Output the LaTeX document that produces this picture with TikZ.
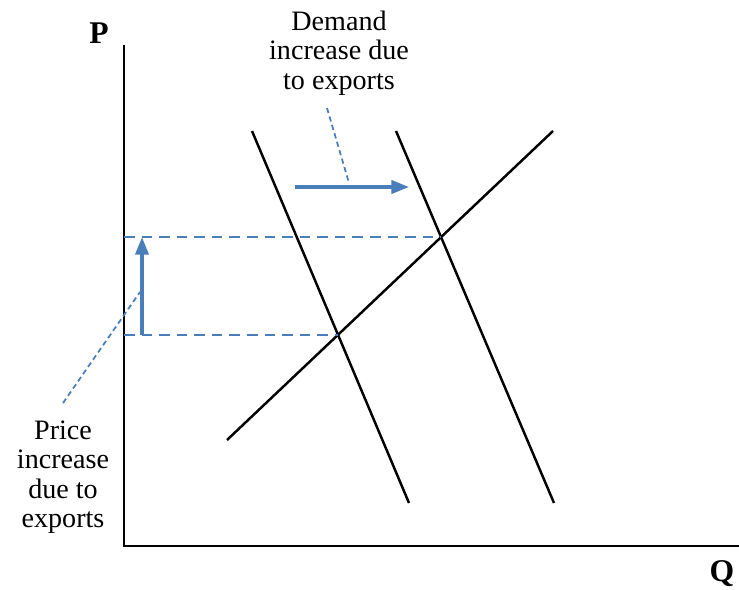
\documentclass[tikz,border=0pt]{standalone}
\usepackage{fontspec}
\setmainfont{Liberation Serif}
\usetikzlibrary{arrows.meta, positioning, calc}
\definecolor{shiftblue}{HTML}{4A7EBB}

\begin{document}
\begin{tikzpicture}[x=0.02cm, y=-0.02cm, thick, >=Stealth,
    curve/.style={line width=1.4pt, black},
    guide/.style={shiftblue, line width=1.2pt, dash pattern=on 6pt off 4pt},
    leader/.style={shiftblue, line width=1pt, dash pattern=on 3pt off 2pt},
    shiftarrow/.style={shiftblue, line width=1.9pt, -{Triangle[length=10pt, width=7.5pt]}},
    notetext/.style={font=\fontsize{16}{16.8}\selectfont, align=center, inner sep=0pt}]
    \useasboundingbox (0,0) rectangle (739,589);

    % Achsen
    \coordinate (O) at (124,546);
    \coordinate (Ptop) at (124,45);
    \coordinate (Qend) at (739,546);
    \draw[curve] (Ptop) -- (O) -- (Qend);
    \node[font=\fontsize{18}{20}\selectfont\bfseries, inner sep=0pt] (P) at (99,33) {P};
    \node[font=\fontsize{18}{20}\selectfont\bfseries, inner sep=0pt] (Q) at (722,574) {Q};

    % Angebot und Nachfrage
    \coordinate (S1) at (227,440);
    \coordinate (S2) at (553,131);
    \coordinate (D1a) at (252,131);
    \coordinate (D1b) at (409,503);
    \coordinate (D2a) at (396,131);
    \coordinate (D2b) at (554,503);
    \draw[curve] (S1) -- (S2);
    \draw[curve] (D1a) -- (D1b);
    \draw[curve] (D2a) -- (D2b);

    % Gleichgewichte
    \coordinate (E1) at (intersection of S1--S2 and D1a--D1b);
    \coordinate (E2) at (intersection of S1--S2 and D2a--D2b);
    \coordinate (P1) at (O |- E1);
    \coordinate (P2) at (O |- E2);
    \draw[guide] (P1) -- (E1);
    \draw[guide] (P2) -- (E2);

    % Verschiebungen
    \coordinate (A1) at ($(P1)+(18,0)$);
    \coordinate (A2) at ($(P2)+(18,0)$);
    \draw[shiftarrow] (A1) -- (A2);
    \coordinate (B1) at (295,187);
    \coordinate (B2) at (409,187);
    \draw[shiftarrow] (B1) -- (B2);

    % Beschriftungen
    \node[notetext] (demand) at (339,53) {Demand\\increase due\\to exports};
    \node[notetext] (price) at (63,477) {Price\\increase\\due to\\exports};
    \coordinate (dlead) at (327,108);
    \coordinate (dtip) at (349,183);
    \draw[leader] (dlead) -- (dtip);
    \coordinate (plead) at (63,403);
    \coordinate (ptip) at (140,292);
    \draw[leader] (plead) -- (ptip);
\end{tikzpicture}
\end{document}
